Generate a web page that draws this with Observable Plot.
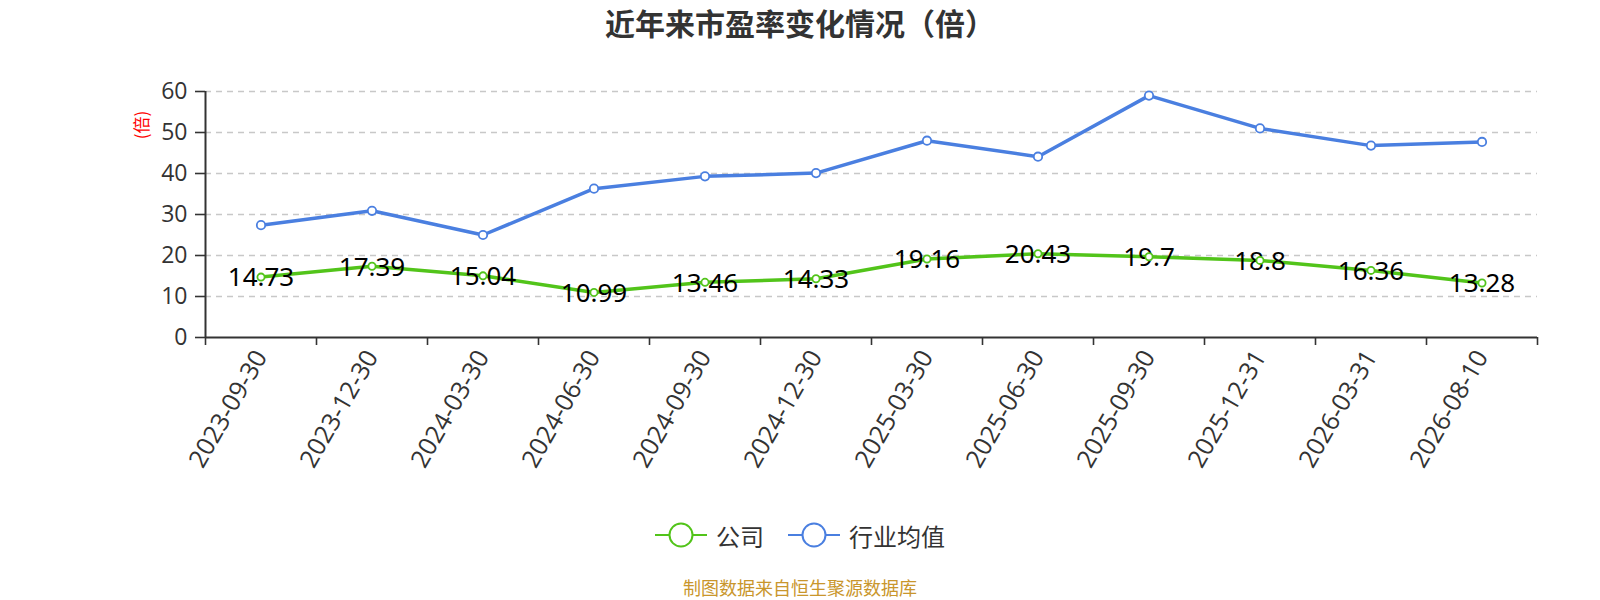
<!DOCTYPE html>
<html>
<head>
<meta charset="utf-8">
<script src="https://cdn.jsdelivr.net/npm/d3@7"></script>
<script src="https://cdn.jsdelivr.net/npm/@observablehq/plot@0.6"></script>
<style>
  body { margin: 0; background: #fff; font-family: "Noto Sans CJK SC", "Open Sans", sans-serif; }
  #wrap { position: relative; width: 1600px; height: 600px; overflow: hidden; }
  #title { width: 1600px; height: 50px; line-height: 45px; text-align: center; font-size: 30px; font-weight: bold; color: #333; }
  #chart svg { display: block; }
  #legend { position: absolute; left: 0; top: 515px; width: 1600px; height: 40px; display: flex; justify-content: center; align-items: center; gap: 24px; font-size: 24px; color: #333; }
  .item { display: flex; align-items: center; gap: 9px; }
  #source { position: absolute; left: 0; top: 576px; width: 1600px; height: 22px; line-height: 22px; text-align: center; font-size: 18px; color: #c9962c; }
</style>
</head>
<body>
<div id="wrap">
  <div id="title">近年来市盈率变化情况（倍）</div>
  <div id="chart"></div>
  <div id="legend"></div>
  <div id="source">制图数据来自恒生聚源数据库</div>
</div>
<script>
const dates = ["2023-09-30","2023-12-30","2024-03-30","2024-06-30","2024-09-30","2024-12-30","2025-03-30","2025-06-30","2025-09-30","2025-12-31","2026-03-31","2026-08-10"];
const company = [14.73, 17.39, 15.04, 10.99, 13.46, 14.33, 19.16, 20.43, 19.7, 18.8, 16.36, 13.28];
const industry = [27.4, 30.9, 25.0, 36.3, 39.3, 40.1, 48.0, 44.1, 59.0, 51.0, 46.8, 47.7];
const seriesNames = ["公司", "行业均值"];
const seriesColors = ["#52c41a", "#4a7fe0"];
const yTicks = [0, 10, 20, 30, 40, 50, 60];
const unitLabel = "(倍)";

const compRows = company.map((v, i) => ({i, value: v}));
const indRows = industry.map((v, i) => ({i, value: v}));
const idx = d3.range(dates.length);
const bounds = d3.range(dates.length + 1).map(i => i - 0.5);

const chart = Plot.plot({
  width: 1600,
  height: 430,
  marginLeft: 205,
  marginRight: 63,
  marginTop: 41,
  marginBottom: 143,
  style: {fontFamily: "'Open Sans', 'Noto Sans', sans-serif", background: "#fff", overflow: "visible"},
  x: {type: "linear", domain: [-0.5, dates.length - 0.5]},
  y: {domain: [0, 60]},
  marks: [
    Plot.gridY(yTicks.filter(t => t > 0), {stroke: "#c8c8c8", strokeOpacity: 1, strokeDasharray: "6,5", strokeWidth: 1.4}),
    Plot.axisY(yTicks, {tickSize: 10, tickPadding: 8, fontSize: 23, fill: "#333", stroke: "#333", strokeWidth: 1.6, label: null}),
    Plot.ruleX([-0.5], {stroke: "#333", strokeWidth: 2}),
    Plot.ruleY([0], {stroke: "#333", strokeWidth: 2}),
    Plot.axisX(bounds, {tickSize: 8, tickFormat: () => "", stroke: "#333", strokeWidth: 1.6, label: null}),
    Plot.axisX(idx, {tickSize: 0, tickPadding: 15, tickRotate: -60, tickFormat: i => dates[i], fontSize: 25, fill: "#333", label: null}),
    Plot.line(indRows, {x: "i", y: "value", stroke: seriesColors[1], strokeWidth: 3.5}),
    Plot.line(compRows, {x: "i", y: "value", stroke: seriesColors[0], strokeWidth: 3.5}),
    Plot.dot(indRows, {x: "i", y: "value", r: 4.2, fill: "#fff", stroke: seriesColors[1], strokeWidth: 1.8}),
    Plot.text(compRows, {x: "i", y: "value", text: d => String(d.value), fontSize: 26, fill: "#000", fontFamily: "'Noto Sans', sans-serif", dy: 1}),
    Plot.dot(compRows, {x: "i", y: "value", r: 3.6, fill: "#fff", stroke: seriesColors[0], strokeWidth: 1.8})
  ]
});

// unit label on y axis
const svg = d3.select(chart);
svg.append("text")
  .attr("transform", "translate(143,75) rotate(-90)")
  .attr("text-anchor", "middle")
  .attr("dominant-baseline", "middle")
  .attr("fill", "red")
  .attr("font-size", 17)
  .attr("font-family", "'Noto Sans CJK SC', sans-serif")
  .text(unitLabel);

document.getElementById("chart").appendChild(chart);

const legend = document.getElementById("legend");
seriesNames.forEach((name, k) => {
  const item = document.createElement("div");
  item.className = "item";
  item.innerHTML = `<svg width="52" height="28"><line x1="0" y1="14" x2="52" y2="14" stroke="${seriesColors[k]}" stroke-width="2"/><circle cx="26" cy="14" r="11.5" fill="#fff" stroke="${seriesColors[k]}" stroke-width="2"/></svg><span>${name}</span>`;
  legend.appendChild(item);
});
</script>
</body>
</html>
